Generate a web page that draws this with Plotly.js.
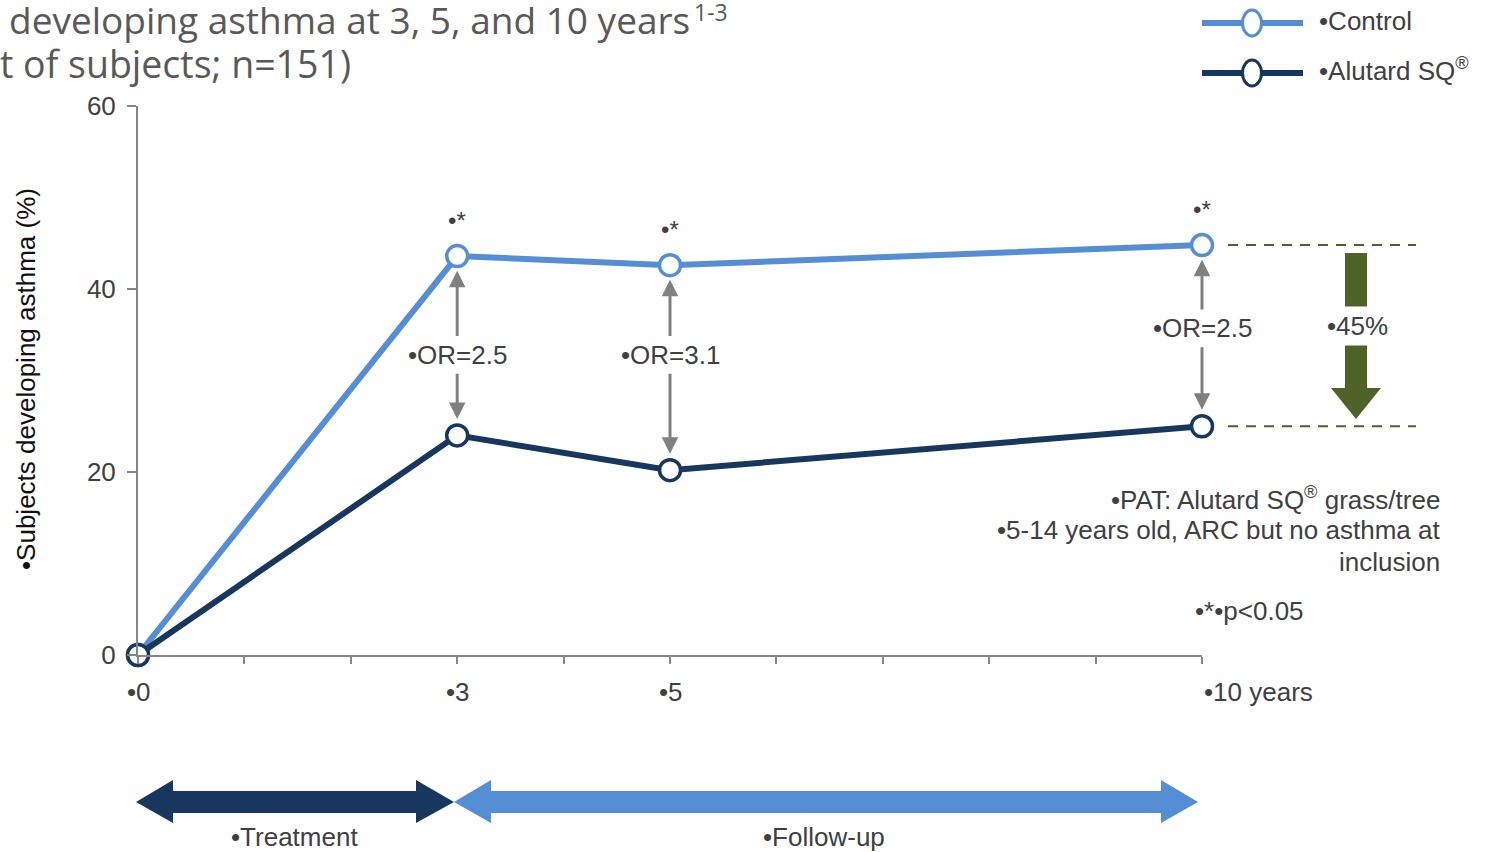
<!DOCTYPE html>
<html>
<head>
<meta charset="utf-8">
<script src="https://cdn.plot.ly/plotly-3.0.1.min.js"></script>
<style>html,body{margin:0;padding:0;background:#fff;}#chart{width:1486px;height:852px;}</style>
</head>
<body>
<div id="chart"></div>
<script>
// ---- data ----
const years = [0, 3, 5, 10];
const controlPct = [0, 43.6, 42.6, 44.8];
const alutardPct = [0, 24.0, 20.2, 25.0];
const seriesNames = ['•Control', '•Alutard SQ<sup>®</sup>'];
const xTickVals = [0, 1, 2, 3, 4, 5, 6, 7, 8, 9, 10];
const xLabelVals = [0, 3, 5, 10];
const xLabelText = ['•0', '•3', '•5', '•10 years'];
const yTickVals = [0, 20, 40, 60];
const orYears = [3, 5, 10];
const orText = ['•OR=2.5', '•OR=3.1', '•OR=2.5'];
const orLabelY = [32.8, 32.8, 35.7];
const sigYears = [3, 5, 10];
const reductionText = '•45%';
const titleLines = ['developing asthma at 3, 5, and 10 years', 't of subjects; n=151)'];
const titleRef = '1-3';
const yTitle = '•Subjects developing asthma (%)';
const noteLines = ['•PAT: Alutard SQ<sup>®</sup> grass/tree', '•5-14 years old, ARC but no asthma at', 'inclusion'];
const pText = '•*•p<0.05';
const phaseText = ['•Treatment', '•Follow-up'];

// ---- styling / geometry ----
const LIGHT = '#558ED5', NAVY = '#17375E', GREEN = '#4F6228', GREY = '#808080', AXIS = '#868686';
const TXT = '#404040';
const FONT = 'Liberation Sans, Arial, sans-serif';
const TFONT = 'Open Sans, sans-serif';
const PL = 138, PR = 1202, PT = 106, PB = 655;
const fx = p => (p - PL) / (PR - PL);
const fy = p => (PB - p) / (PB - PT);
const pathFrom = pts => 'M' + pts.map(p => fx(p[0]).toFixed(5) + ',' + fy(p[1]).toFixed(5)).join('L') + 'Z';

const traces = [
  {x: years, y: controlPct, name: seriesNames[0], mode: 'lines+markers', cliponaxis: false,
   line: {color: LIGHT, width: 6}, marker: {symbol: 'circle', size: 21, color: '#fff', line: {color: LIGHT, width: 3.5}}},
  {x: years, y: alutardPct, name: seriesNames[1], mode: 'lines+markers', cliponaxis: false,
   line: {color: NAVY, width: 6}, marker: {symbol: 'circle', size: 21, color: '#fff', line: {color: NAVY, width: 3.5}}}
];

const annotations = [];
const shapes = [];
function paperText(text, px, py, xa, size, extra) {
  annotations.push(Object.assign({xref: 'paper', yref: 'paper', x: fx(px), y: fy(py), xanchor: xa, yanchor: 'middle',
    text: text, showarrow: false, font: {family: FONT, size: size, color: TXT}}, extra || {}));
}

// title (cut off at left as in reference)
paperText(titleLines[0], 692, 19, 'right', 37, {font: {family: TFONT, size: 37, color: '#595959'}});
paperText(titleRef, 692, 12, 'left', 23, {font: {family: TFONT, size: 23, color: '#595959'}});
paperText(titleLines[1], 0, 64, 'left', 37.5, {xshift: -2, font: {family: TFONT, size: 37.5, color: '#595959'}});

// y title
paperText(yTitle, 26, 379, 'center', 26, {textangle: -90, font: {family: FONT, size: 26, color: '#111'}});

// x tick labels
xLabelVals.forEach((v, i) => {
  const last = i === xLabelVals.length - 1;
  annotations.push({x: v, y: 0, xref: 'x', yref: 'y', xanchor: last ? 'left' : 'center', yanchor: 'middle',
    yshift: -37, xshift: last ? 0 : 1, text: xLabelText[i], showarrow: false, font: {family: FONT, size: 26, color: TXT}});
});

// significance markers
sigYears.forEach(v => {
  const idx = years.indexOf(v);
  annotations.push({x: v, y: controlPct[idx], xref: 'x', yref: 'y', xanchor: 'center', yanchor: 'middle', yshift: 36,
    showarrow: false, text: '•*', font: {family: FONT, size: 24, color: TXT}});
});

// OR labels + grey double arrows
orYears.forEach((v, i) => {
  const idx = years.indexOf(v);
  annotations.push({x: v, y: orLabelY[i], xref: 'x', yref: 'y', xanchor: 'center', yanchor: 'middle', showarrow: false,
    text: orText[i], font: {family: FONT, size: 26, color: TXT}});
  const common = {xref: 'x', yref: 'y', axref: 'x', ayref: 'y', text: '', showarrow: true, arrowhead: 2,
    arrowsize: 1.1, arrowwidth: 3, arrowcolor: GREY, standoff: 0, startstandoff: 0, font: {size: 1}};
  annotations.push(Object.assign({}, common, {x: v, y: controlPct[idx] - 1.6, ax: v, ay: orLabelY[i] + 1.9}));
  annotations.push(Object.assign({}, common, {x: v, y: alutardPct[idx] + 1.8, ax: v, ay: orLabelY[i] - 1.9}));
});

// green dashed reference lines at 10-year values
const i10 = years.indexOf(10);
[controlPct[i10], alutardPct[i10]].forEach(v => {
  shapes.push({type: 'line', xref: 'paper', yref: 'paper', x0: fx(1228), x1: fx(1416), y0: v / 60, y1: v / 60,
    line: {color: GREEN, width: 2, dash: '10px,8px'}});
});
// green down arrow
shapes.push({type: 'path', xref: 'paper', yref: 'paper', fillcolor: GREEN, line: {width: 0},
  path: pathFrom([[1345, 253], [1367, 253], [1367, 388], [1381, 388], [1356, 419], [1331, 388], [1345, 388]])});
paperText(reductionText, 1357, 326, 'center', 26, {bgcolor: '#fff', borderpad: 4});

// notes
noteLines.forEach((t, i) => paperText(t, 1442, 498 + 32 * i, 'right', 26));
paperText(pText, 1193, 611, 'left', 26);

// legend (custom)
const legendRows = [[23, LIGHT, 21], [73, NAVY, 70]];
legendRows.forEach((r, i) => {
  shapes.push({type: 'line', xref: 'paper', yref: 'paper', x0: fx(1202), x1: fx(1303), y0: fy(r[0]), y1: fy(r[0]),
    line: {color: r[1], width: 6}});
  shapes.push({type: 'circle', xref: 'paper', yref: 'paper', xsizemode: 'pixel', ysizemode: 'pixel',
    xanchor: fx(1252), yanchor: fy(r[0]), x0: -9.5, x1: 9.5, y0: -13, y1: 13, fillcolor: '#fff', line: {color: r[1], width: 3}});
  paperText(seriesNames[i], 1317, r[2], 'left', 26);
});

// timeline arrows
shapes.push({type: 'path', xref: 'paper', yref: 'paper', fillcolor: NAVY, line: {width: 0},
  path: pathFrom([[136, 802], [173, 780], [173, 791], [416, 791], [416, 780], [454, 802], [416, 823], [416, 813], [173, 813], [173, 823]])});
shapes.push({type: 'path', xref: 'paper', yref: 'paper', fillcolor: LIGHT, line: {width: 0},
  path: pathFrom([[454, 802], [491, 780], [491, 791], [1161, 791], [1161, 780], [1198, 802], [1161, 823], [1161, 813], [491, 813], [491, 823]])});
paperText(phaseText[0], 294, 837, 'center', 26);
paperText(phaseText[1], 824, 837, 'center', 26);

const layout = {
  width: 1486, height: 852,
  margin: {l: PL, r: 1486 - PR, t: PT, b: 852 - PB, pad: 0},
  paper_bgcolor: '#fff', plot_bgcolor: '#fff',
  showlegend: false,
  font: {family: FONT, color: TXT},
  xaxis: {range: [0, 10], showline: true, linecolor: AXIS, linewidth: 2, ticks: 'outside', ticklen: 7, tickwidth: 2,
    tickcolor: AXIS, tickvals: xTickVals, showticklabels: false, showgrid: false, zeroline: false, fixedrange: true},
  yaxis: {range: [0, 60], showline: true, linecolor: AXIS, linewidth: 2, ticks: 'outside', ticklen: 9, tickwidth: 2,
    tickcolor: AXIS, tickvals: yTickVals, tickfont: {family: FONT, size: 26, color: TXT}, showgrid: false, zeroline: false,
    ticklabelstandoff: 6, fixedrange: true},
  shapes: shapes,
  annotations: annotations
};

Plotly.newPlot('chart', traces, layout, {displayModeBar: false, staticPlot: true});
</script>
</body>
</html>
